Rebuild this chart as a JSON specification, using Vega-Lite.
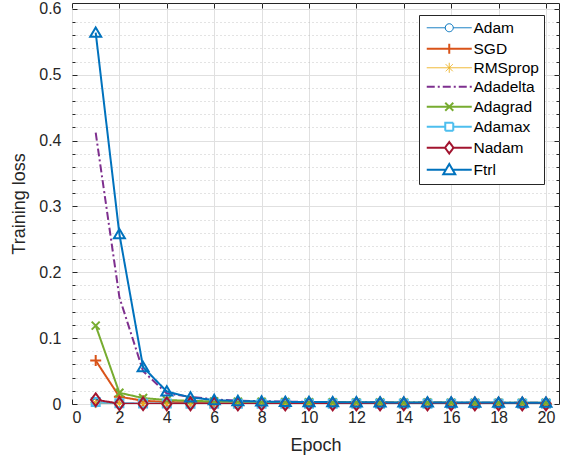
{
  "$schema": "https://vega.github.io/schema/vega-lite/v6.json",
  "width": 487,
  "height": 401,
  "autosize": {"type": "none"},
  "padding": {"left": 72, "top": 3, "right": 9, "bottom": 57},
  "background": "white",
  "config": {
    "font": "Liberation Sans",
    "view": {"stroke": "#262626", "strokeWidth": 1},
    "axis": {
      "labelFont": "Liberation Sans",
      "labelFontSize": 16,
      "labelColor": "#262626",
      "titleFont": "Liberation Sans",
      "titleFontSize": 18,
      "titleFontWeight": "normal",
      "titleColor": "#262626",
      "tickColor": "#262626",
      "domain": false
    },
    "legend": {
      "orient": "none",
      "legendX": 347,
      "legendY": 12,
      "padding": 5,
      "fillColor": "white",
      "strokeColor": "#262626",
      "symbolSize": 100,
      "symbolOpacity": 1,
      "symbolFillColor": "transparent",
      "labelFont": "Liberation Sans",
      "labelFontSize": 15.5,
      "labelColor": "#000000",
      "labelOffset": 34,
      "rowPadding": 2,
      "labelLimit": 200
    }
  },
  "data": {
    "values": [
      {"e":1,"s":"Adam","v":0.0015},{"e":2,"s":"Adam","v":0.0008},{"e":3,"s":"Adam","v":0.0006},{"e":4,"s":"Adam","v":0.0005},{"e":5,"s":"Adam","v":0.0004},{"e":6,"s":"Adam","v":0.0004},{"e":7,"s":"Adam","v":0.0003},{"e":8,"s":"Adam","v":0.0003},{"e":9,"s":"Adam","v":0.0003},{"e":10,"s":"Adam","v":0.0003},{"e":11,"s":"Adam","v":0.0002},{"e":12,"s":"Adam","v":0.0002},{"e":13,"s":"Adam","v":0.0002},{"e":14,"s":"Adam","v":0.0002},{"e":15,"s":"Adam","v":0.0002},{"e":16,"s":"Adam","v":0.0002},{"e":17,"s":"Adam","v":0.0002},{"e":18,"s":"Adam","v":0.0002},{"e":19,"s":"Adam","v":0.0002},{"e":20,"s":"Adam","v":0.0002},
      {"e":1,"s":"SGD","v":0.066},{"e":2,"s":"SGD","v":0.011},{"e":3,"s":"SGD","v":0.005},{"e":4,"s":"SGD","v":0.003},{"e":5,"s":"SGD","v":0.0025},{"e":6,"s":"SGD","v":0.002},{"e":7,"s":"SGD","v":0.0018},{"e":8,"s":"SGD","v":0.0016},{"e":9,"s":"SGD","v":0.0015},{"e":10,"s":"SGD","v":0.0014},{"e":11,"s":"SGD","v":0.0013},{"e":12,"s":"SGD","v":0.0012},{"e":13,"s":"SGD","v":0.0012},{"e":14,"s":"SGD","v":0.0011},{"e":15,"s":"SGD","v":0.0011},{"e":16,"s":"SGD","v":0.001},{"e":17,"s":"SGD","v":0.001},{"e":18,"s":"SGD","v":0.001},{"e":19,"s":"SGD","v":0.0009},{"e":20,"s":"SGD","v":0.0009},
      {"e":1,"s":"RMSprop","v":0.002},{"e":2,"s":"RMSprop","v":0.0008},{"e":3,"s":"RMSprop","v":0.0005},{"e":4,"s":"RMSprop","v":0.0004},{"e":5,"s":"RMSprop","v":0.0004},{"e":6,"s":"RMSprop","v":0.0003},{"e":7,"s":"RMSprop","v":0.0003},{"e":8,"s":"RMSprop","v":0.0003},{"e":9,"s":"RMSprop","v":0.0002},{"e":10,"s":"RMSprop","v":0.0002},{"e":11,"s":"RMSprop","v":0.0002},{"e":12,"s":"RMSprop","v":0.0002},{"e":13,"s":"RMSprop","v":0.0002},{"e":14,"s":"RMSprop","v":0.0002},{"e":15,"s":"RMSprop","v":0.0002},{"e":16,"s":"RMSprop","v":0.0002},{"e":17,"s":"RMSprop","v":0.0002},{"e":18,"s":"RMSprop","v":0.0002},{"e":19,"s":"RMSprop","v":0.0002},{"e":20,"s":"RMSprop","v":0.0002},
      {"e":1,"s":"Adadelta","v":0.412},{"e":2,"s":"Adadelta","v":0.162},{"e":3,"s":"Adadelta","v":0.05},{"e":4,"s":"Adadelta","v":0.016},{"e":5,"s":"Adadelta","v":0.011},{"e":6,"s":"Adadelta","v":0.007},{"e":7,"s":"Adadelta","v":0.005},{"e":8,"s":"Adadelta","v":0.0042},{"e":9,"s":"Adadelta","v":0.0036},{"e":10,"s":"Adadelta","v":0.0032},{"e":11,"s":"Adadelta","v":0.0029},{"e":12,"s":"Adadelta","v":0.0027},{"e":13,"s":"Adadelta","v":0.0025},{"e":14,"s":"Adadelta","v":0.0023},{"e":15,"s":"Adadelta","v":0.0022},{"e":16,"s":"Adadelta","v":0.0021},{"e":17,"s":"Adadelta","v":0.002},{"e":18,"s":"Adadelta","v":0.0019},{"e":19,"s":"Adadelta","v":0.0018},{"e":20,"s":"Adadelta","v":0.0018},
      {"e":1,"s":"Adagrad","v":0.119},{"e":2,"s":"Adagrad","v":0.017},{"e":3,"s":"Adagrad","v":0.009},{"e":4,"s":"Adagrad","v":0.006},{"e":5,"s":"Adagrad","v":0.0048},{"e":6,"s":"Adagrad","v":0.004},{"e":7,"s":"Adagrad","v":0.0036},{"e":8,"s":"Adagrad","v":0.0033},{"e":9,"s":"Adagrad","v":0.003},{"e":10,"s":"Adagrad","v":0.0028},{"e":11,"s":"Adagrad","v":0.0026},{"e":12,"s":"Adagrad","v":0.0025},{"e":13,"s":"Adagrad","v":0.0024},{"e":14,"s":"Adagrad","v":0.0023},{"e":15,"s":"Adagrad","v":0.0022},{"e":16,"s":"Adagrad","v":0.0021},{"e":17,"s":"Adagrad","v":0.002},{"e":18,"s":"Adagrad","v":0.002},{"e":19,"s":"Adagrad","v":0.0019},{"e":20,"s":"Adagrad","v":0.0019},
      {"e":1,"s":"Adamax","v":0.003},{"e":2,"s":"Adamax","v":0.0012},{"e":3,"s":"Adamax","v":0.0008},{"e":4,"s":"Adamax","v":0.0006},{"e":5,"s":"Adamax","v":0.0005},{"e":6,"s":"Adamax","v":0.0005},{"e":7,"s":"Adamax","v":0.0004},{"e":8,"s":"Adamax","v":0.0004},{"e":9,"s":"Adamax","v":0.0004},{"e":10,"s":"Adamax","v":0.0003},{"e":11,"s":"Adamax","v":0.0003},{"e":12,"s":"Adamax","v":0.0003},{"e":13,"s":"Adamax","v":0.0003},{"e":14,"s":"Adamax","v":0.0003},{"e":15,"s":"Adamax","v":0.0003},{"e":16,"s":"Adamax","v":0.0003},{"e":17,"s":"Adamax","v":0.0002},{"e":18,"s":"Adamax","v":0.0002},{"e":19,"s":"Adamax","v":0.0002},{"e":20,"s":"Adamax","v":0.0002},
      {"e":1,"s":"Nadam","v":0.0065},{"e":2,"s":"Nadam","v":0.0005},{"e":3,"s":"Nadam","v":0.0003},{"e":4,"s":"Nadam","v":0.0002},{"e":5,"s":"Nadam","v":0.0002},{"e":6,"s":"Nadam","v":0.0002},{"e":7,"s":"Nadam","v":0.0001},{"e":8,"s":"Nadam","v":0.0001},{"e":9,"s":"Nadam","v":0.0001},{"e":10,"s":"Nadam","v":0.0001},{"e":11,"s":"Nadam","v":0.0001},{"e":12,"s":"Nadam","v":0.0001},{"e":13,"s":"Nadam","v":0.0001},{"e":14,"s":"Nadam","v":0.0001},{"e":15,"s":"Nadam","v":0.0001},{"e":16,"s":"Nadam","v":0.0001},{"e":17,"s":"Nadam","v":0.0001},{"e":18,"s":"Nadam","v":0.0001},{"e":19,"s":"Nadam","v":0.0001},{"e":20,"s":"Nadam","v":0.0001},
      {"e":1,"s":"Ftrl","v":0.564},{"e":2,"s":"Ftrl","v":0.258},{"e":3,"s":"Ftrl","v":0.056},{"e":4,"s":"Ftrl","v":0.019},{"e":5,"s":"Ftrl","v":0.01},{"e":6,"s":"Ftrl","v":0.006},{"e":7,"s":"Ftrl","v":0.0045},{"e":8,"s":"Ftrl","v":0.0038},{"e":9,"s":"Ftrl","v":0.0033},{"e":10,"s":"Ftrl","v":0.003},{"e":11,"s":"Ftrl","v":0.0028},{"e":12,"s":"Ftrl","v":0.0026},{"e":13,"s":"Ftrl","v":0.0025},{"e":14,"s":"Ftrl","v":0.0024},{"e":15,"s":"Ftrl","v":0.0023},{"e":16,"s":"Ftrl","v":0.0022},{"e":17,"s":"Ftrl","v":0.0021},{"e":18,"s":"Ftrl","v":0.0021},{"e":19,"s":"Ftrl","v":0.002},{"e":20,"s":"Ftrl","v":0.002}
    ]
  },
  "layer": [
    {
      "mark": {"type": "point", "opacity": 0},
      "encoding": {
        "x": {"field": "e", "type": "quantitative", "scale": {"domain": [0, 20.55], "nice": false, "zero": false}, "axis": null},
        "y": {"field": "v", "type": "quantitative", "scale": {"domain": [0, 0.609], "nice": false},
          "axis": {"orient": "left", "values": [0.02,0.04,0.06,0.08,0.12,0.14,0.16,0.18,0.22,0.24,0.26,0.28,0.32,0.34,0.36,0.38,0.42,0.44,0.46,0.48,0.52,0.54,0.56,0.58],
            "grid": true, "gridDash": [1, 3], "gridColor": "#b8b8b8", "gridWidth": 0.8, "ticks": true, "tickSize": -3, "labels": false, "title": null}}
      }
    },
    {
      "mark": {"type": "point", "opacity": 0},
      "encoding": {
        "x": {"field": "e", "type": "quantitative", "axis": null},
        "y": {"field": "v", "type": "quantitative",
          "axis": {"orient": "right", "values": [0.02,0.04,0.06,0.08,0.12,0.14,0.16,0.18,0.22,0.24,0.26,0.28,0.32,0.34,0.36,0.38,0.42,0.44,0.46,0.48,0.52,0.54,0.56,0.58],
            "grid": false, "ticks": true, "tickSize": -3, "labels": false, "title": null}}
      }
    },
    {
      "mark": {"type": "line", "clip": true},
      "encoding": {
        "x": {"field": "e", "type": "quantitative",
          "axis": {"orient": "bottom", "values": [0,2,4,6,8,10,12,14,16,18,20], "format": "d", "grid": true, "gridColor": "#e0e0e0", "tickSize": -5, "labelPadding": 10, "title": "Epoch", "titlePadding": 11}},
        "y": {"field": "v", "type": "quantitative",
          "axis": {"orient": "left", "values": [0,0.1,0.2,0.3,0.4,0.5,0.6], "format": "~g", "grid": true, "gridColor": "#e0e0e0", "tickSize": -5, "labelPadding": 16, "title": "Training loss", "titlePadding": 10}},
        "color": {"field": "s", "type": "nominal", "legend": null,
          "scale": {"domain": ["Adam","SGD","RMSprop","Adadelta","Adagrad","Adamax","Nadam","Ftrl"],
            "range": ["#0072BD","#D95319","#EDB120","#7E2F8E","#77AC30","#4DBEEE","#A2142F","#0072BD"]}},
        "strokeWidth": {"field": "s", "type": "nominal", "legend": null,
          "scale": {"type": "ordinal", "domain": ["Adam","SGD","RMSprop","Adadelta","Adagrad","Adamax","Nadam","Ftrl"], "range": [1,2,1,2,2,2,2,2]}},
        "strokeDash": {"field": "s", "type": "nominal", "legend": null,
          "scale": {"domain": ["Adam","SGD","RMSprop","Adadelta","Adagrad","Adamax","Nadam","Ftrl"], "range": [[1,0],[1,0],[1,0],[8,3,2,3],[1,0],[1,0],[1,0],[1,0]]}},
        "order": {"field": "e", "type": "quantitative"}
      }
    },
    {
      "transform": [{"filter": "datum.s !== 'Adadelta'"}],
      "mark": {"type": "point", "filled": false, "opacity": 1},
      "encoding": {
        "x": {"field": "e", "type": "quantitative", "axis": null},
        "y": {"field": "v", "type": "quantitative", "axis": null},
        "color": {"field": "s", "type": "nominal", "legend": null,
          "scale": {"domain": ["Adam","SGD","RMSprop","Adadelta","Adagrad","Adamax","Nadam","Ftrl"],
            "range": ["#0072BD","#D95319","#EDB120","#7E2F8E","#77AC30","#4DBEEE","#A2142F","#0072BD"]}},
        "strokeWidth": {"field": "s", "type": "nominal", "legend": null,
          "scale": {"type": "ordinal", "domain": ["Adam","SGD","RMSprop","Adadelta","Adagrad","Adamax","Nadam","Ftrl"], "range": [1,2,1,2,2,2,2,2]}},
        "shape": {
          "condition": [
            {"test": "datum.s === 'Adam'", "value": "M1,0A1,1,0,1,1,-1,0A1,1,0,1,1,1,0Z"},
            {"test": "datum.s === 'SGD'", "value": "M-1,0H1M0,-1V1"},
            {"test": "datum.s === 'RMSprop'", "value": "M-1,0H1M0,-1V1M-0.7,-0.7L0.7,0.7M-0.7,0.7L0.7,-0.7"},
            {"test": "datum.s === 'Adagrad'", "value": "M-1,-1L1,1M-1,1L1,-1"},
            {"test": "datum.s === 'Adamax'", "value": "M-1,-1H1V1H-1Z"},
            {"test": "datum.s === 'Nadam'", "value": "M0,-1.15L0.85,0L0,1.15L-0.85,0Z"}
          ],
          "value": "M0,-0.95L1,0.75H-1Z"
        },
        "size": {
          "condition": [
            {"test": "datum.s === 'Adam'", "value": 64},
            {"test": "datum.s === 'Adagrad'", "value": 64},
            {"test": "datum.s === 'Adamax'", "value": 64}
          ],
          "value": 121
        }
      }
    },
    {
      "mark": {"type": "point", "filled": false, "opacity": 0},
      "encoding": {
        "x": {"field": "e", "type": "quantitative",
          "axis": {"orient": "top", "values": [0,2,4,6,8,10,12,14,16,18,20], "grid": false, "tickSize": -5, "labels": false, "title": null}},
        "y": {"field": "v", "type": "quantitative",
          "axis": {"orient": "right", "values": [0,0.1,0.2,0.3,0.4,0.5,0.6], "grid": false, "tickSize": -5, "labels": false, "title": null}},
        "color": {"field": "s", "type": "nominal", "title": null,
          "scale": {"domain": ["Adam","SGD","RMSprop","Adadelta","Adagrad","Adamax","Nadam","Ftrl"],
            "range": ["#0072BD","#D95319","#EDB120","#7E2F8E","#77AC30","#4DBEEE","#A2142F","#0072BD"]}},
        "strokeWidth": {"field": "s", "type": "nominal", "title": null,
          "scale": {"type": "ordinal", "domain": ["Adam","SGD","RMSprop","Adadelta","Adagrad","Adamax","Nadam","Ftrl"], "range": [1,2,1,2,2,2,2,2]}},
        "strokeDash": {"field": "s", "type": "nominal", "title": null,
          "scale": {"domain": ["Adam","SGD","RMSprop","Adadelta","Adagrad","Adamax","Nadam","Ftrl"], "range": [[1,0],[1,0],[1,0],[8,3,2,3],[1,0],[1,0],[1,0],[1,0]]}},
        "shape": {"field": "s", "type": "nominal", "title": null,
          "scale": {"domain": ["Adam","SGD","RMSprop","Adadelta","Adagrad","Adamax","Nadam","Ftrl"],
            "range": [
              "M-1,0H2.7M4.3,0H8M4.3,0A0.8,0.8,0,1,1,2.7,0A0.8,0.8,0,1,1,4.3,0Z",
              "M-1,0H8M3.5,-1V1",
              "M-1,0H8M3.5,-1V1M2.8,-0.7L4.2,0.7M2.8,0.7L4.2,-0.7",
              "M-1,0H8",
              "M-1,0H8M2.7,-0.8L4.3,0.8M2.7,0.8L4.3,-0.8",
              "M-1,0H2.7M4.3,0H8M2.7,-0.8H4.3V0.8H2.7Z",
              "M-1,0H2.65M4.35,0H8M3.5,-1.15L4.35,0L3.5,1.15L2.65,0Z",
              "M-1,0H2.83M4.17,0H8M3.5,-1.15L4.7,0.9H2.3Z"
            ]}}
      }
    }
  ],
  "resolve": {
    "axis": {"x": "independent", "y": "independent"},
    "scale": {"color": "independent", "strokeWidth": "independent", "strokeDash": "independent", "shape": "independent"},
    "legend": {"color": "independent", "strokeWidth": "independent", "strokeDash": "independent", "shape": "independent"}
  }
}
